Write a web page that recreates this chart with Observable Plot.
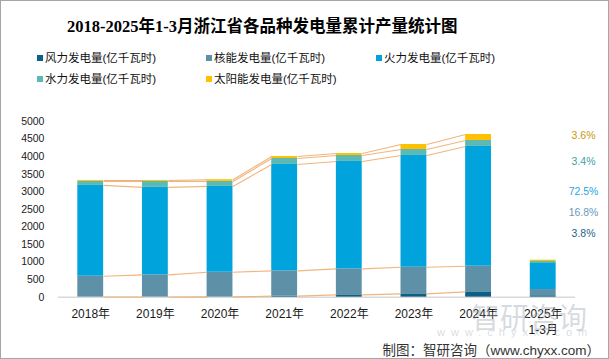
<!DOCTYPE html>
<html>
<head>
<meta charset="utf-8">
<script src="https://cdn.jsdelivr.net/npm/d3@7"></script>
<script src="https://cdn.jsdelivr.net/npm/@observablehq/plot@0.6"></script>
<style>
  html, body { margin: 0; padding: 0; background: #fff; }
  #root { position: relative; width: 607px; height: 357px; border: 1px solid #a6a6a6; overflow: hidden; background: #fff;
          font-family: "Liberation Sans", "Noto Sans CJK SC", sans-serif; }
  #title { position: absolute; left: 66px; top: 12px; font-size: 16.5px; font-weight: bold; color: #000; white-space: nowrap;
           font-family: "Liberation Serif", "Noto Sans CJK SC", serif; }
  .lg { position: absolute; font-size: 11.5px; color: #111; white-space: nowrap; line-height: 14px; }
  .lg i { position: absolute; left: -8px; top: 4px; width: 6px; height: 6px; }
  #chart { position: absolute; left: -1px; top: 99px; }
  #footer { position: absolute; right: 8px; top: 338px; font-size: 13.5px; color: #333; white-space: nowrap; }
  .wm { position: absolute; color: rgba(150,160,170,0.38); white-space: nowrap; pointer-events: none; }
</style>
</head>
<body>
<div id="root">
  <div id="title"></div>
  <div id="legend"></div>
  <div id="chart"></div>
  <div class="wm" style="left:470px; top:294px; font-size:29px;">智研咨询</div>
  <div class="wm" style="left:436px; top:325px; font-size:11px; letter-spacing:6px;">www.chyxx.com</div>
  <div id="footer"></div>
</div>
<script>
const titleText = "2018-2025年1-3月浙江省各品种发电量累计产量统计图";
const footerText = "制图：智研咨询（www.chyxx.com）";
const years = ["2018年","2019年","2020年","2021年","2022年","2023年","2024年","2025年\n1-3月"];
const seriesNames = ["风力发电量(亿千瓦时)","核能发电量(亿千瓦时)","火力发电量(亿千瓦时)","水力发电量(亿千瓦时)","太阳能发电量(亿千瓦时)"];
const seriesColors = ["#0d5f86","#5e90a8","#00a3db","#5cb9b3","#ffc000"];
const wind    = [5, 6, 8, 30, 66, 94, 151, 40];
const nuclear = [591, 628, 702, 718, 738, 758, 730, 177];
const thermal = [2584, 2490, 2442, 3029, 3058, 3181, 3408, 762];
const hydro   = [114, 170, 142, 170, 170, 170, 170, 36];
const solar   = [28, 28, 48, 57, 57, 142, 170, 38];
const yTicks = [0,500,1000,1500,2000,2500,3000,3500,4000,4500,5000];
// 2025 share labels, top to bottom: solar, hydro, thermal, nuclear, wind
const shareLabels = ["3.6%","3.4%","72.5%","16.8%","3.8%"];
const shareColors = ["#c8960c","#3f9ea3","#1ea6e0","#6b98bb","#1f5f8c"];

document.getElementById("title").textContent = titleText;
document.getElementById("footer").textContent = footerText;

// legend
const legendPos = [[44,50],[213,50],[383,50],[44,71],[213,71]];
const legend = document.getElementById("legend");
seriesNames.forEach((n, k) => {
  const d = document.createElement("div");
  d.className = "lg";
  d.style.left = legendPos[k][0] + "px";
  d.style.top = legendPos[k][1] + "px";
  d.innerHTML = `<i style="background:${seriesColors[k]}"></i>`;
  d.appendChild(document.createTextNode(n));
  legend.appendChild(d);
});

const values = [wind, nuclear, thermal, hydro, solar];
const halfW = 0.2;
const rects = [];
const tops = values.map(() => []);
years.forEach((y, i) => {
  let cum = 0;
  values.forEach((arr, k) => {
    rects.push({x1: i - halfW, x2: i + halfW, y1: cum, y2: cum + arr[i], s: seriesNames[k]});
    cum += arr[i];
    tops[k][i] = cum;
  });
});
const links = [];
values.forEach((arr, k) => {
  for (let i = 0; i < 6; i++) {
    links.push({x1: i + halfW, x2: i + 1 - halfW, y1: tops[k][i], y2: tops[k][i + 1]});
  }
});

const labelDy = [14, 40, 70, 91, 112];
const shareMarks = shareLabels.map((t, j) => Plot.text([t], {
  text: d => d, frameAnchor: "top-right", textAnchor: "middle", lineAnchor: "middle",
  dx: 8, dy: labelDy[j], fill: shareColors[j], fontSize: 10.5
}));

const chart = Plot.plot({
  width: 609, height: 240,
  marginTop: 21, marginBottom: 43, marginLeft: 58, marginRight: 33,
  style: {background: "transparent", overflow: "visible", fontFamily: "'Liberation Sans','Noto Sans CJK SC',sans-serif", color: "#1a1a1a"},
  x: {type: "linear", domain: [-0.5, 7.5]},
  y: {domain: [0, 5000]},
  color: {domain: seriesNames, range: seriesColors},
  marks: [
    Plot.ruleY([0], {stroke: "#d9d9d9", strokeWidth: 1.5}),
    Plot.rect(rects, {x1: "x1", x2: "x2", y1: "y1", y2: "y2", fill: "s"}),
    Plot.link(links, {x1: "x1", x2: "x2", y1: "y1", y2: "y2", stroke: "#eda865", strokeWidth: 1.1, strokeOpacity: 0.85}),
    Plot.axisY({ticks: yTicks, tickSize: 0, tickPadding: 14, fontSize: 10.5, label: null, tickFormat: d => String(d)}),
    Plot.axisX({ticks: d3.range(years.length), tickFormat: i => years[i], tickSize: 0, tickPadding: 10, fontSize: 12, lineHeight: 1.3, label: null}),
    ...shareMarks
  ]
});
document.getElementById("chart").appendChild(chart);
</script>
</body>
</html>
